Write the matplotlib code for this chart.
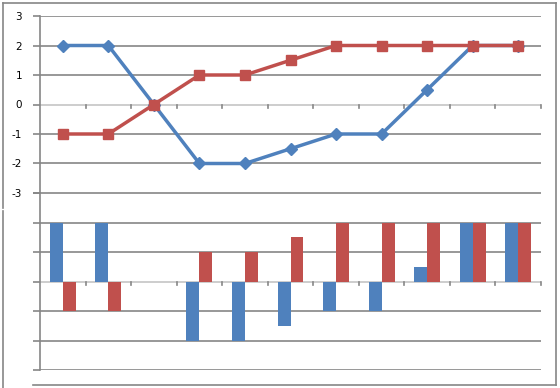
import matplotlib.pyplot as plt
from matplotlib.lines import Line2D
import numpy as np

plt.rcParams["axes.unicode_minus"] = False

# Data
categories = list(range(11))
blue_values = [2, 2, 0, -2, -2, -1.5, -1, -1, 0.5, 2, 2]
red_values = [-1, -1, 0, 1, 1, 1.5, 2, 2, 2, 2, 2]
y_ticks = [-3, -2, -1, 0, 1, 2, 3]

BLUE = "#4F81BD"
RED = "#C0504D"
GRID = "#868686"

W, H = 560, 388
fig = plt.figure(figsize=(W / 100, H / 100), dpi=100)


def px_axes(x0, y0, x1, y1):
    return fig.add_axes([x0 / W, 1 - y1 / H, (x1 - x0) / W, (y1 - y0) / H])


def style_axis(ax, labels):
    n = len(categories)
    ax.set_xlim(0, n)
    ax.set_ylim(-3, 3)
    ax.set_yticks(y_ticks)
    for s in ["top", "right", "bottom"]:
        ax.spines[s].set_visible(False)
    ax.spines["left"].set_color(GRID)
    ax.spines["left"].set_linewidth(1.2)
    ax.grid(axis="y", color=GRID, linewidth=1.2)
    ax.set_axisbelow(True)
    ax.tick_params(axis="y", direction="out", length=5, width=1.2, color=GRID,
                   labelsize=7.5, pad=8, labelleft=labels)
    ax.set_xticks([])
    # category axis drawn at zero with tick marks pointing down
    ax.axhline(0, color="#D9D9D9", linewidth=1.2, zorder=1)
    for k in range(1, n + 1):
        ax.plot([k, k], [0, -0.12], color=GRID, linewidth=1.2, clip_on=False, zorder=1)


# Top: line chart
ax1 = px_axes(40, 16, 541, 193)
style_axis(ax1, True)
x_pos = np.array(categories) + 0.5
ax1.plot(x_pos, blue_values, color=BLUE, linewidth=2.5, marker="D", markersize=6.5, zorder=3)
ax1.plot(x_pos, red_values, color=RED, linewidth=2.5, marker="s", markersize=7.5, zorder=3)

# Bottom: bar chart
ax2 = px_axes(40, 193, 541, 370)
style_axis(ax2, False)
bw = 0.285
ax2.bar(x_pos - bw / 2, blue_values, width=bw, color=BLUE, zorder=2)
ax2.bar(x_pos + bw / 2, red_values, width=bw, color=RED, zorder=2)

# Chart borders
def fig_line(xs, ys):
    fig.add_artist(Line2D([x / W for x in xs], [1 - y / H for y in ys],
                          color=GRID, linewidth=1.2))

fig_line([3, 556], [2.5, 2.5])
fig_line([556, 556], [2.5, 385])
fig_line([3, 3], [2.5, 208])
fig_line([3, 3], [211, 388])
fig_line([33, 556], [385, 385])

fig.savefig("out.png", dpi=100)
